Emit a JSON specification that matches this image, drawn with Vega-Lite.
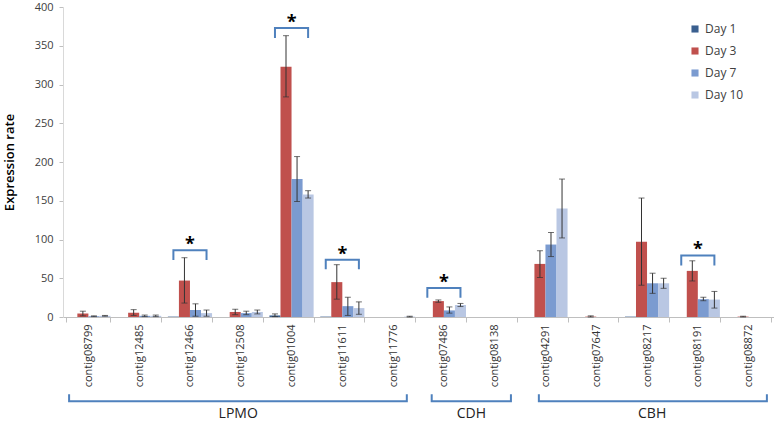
{
  "$schema": "https://vega.github.io/schema/vega-lite/v6.json",
  "padding": {"left": 3, "top": 1, "right": 0, "bottom": 0},
  "background": "white",
  "spacing": 0,
  "config": {"view": {"stroke": null}, "font": "Open Sans",
    "axisY": {"title": "Expression rate", "values": [0,50,100,150,200,250,300,350,400], "labelOverlap": false, "grid": false, "labelFontSize": 11, "labelColor": "#404040", "domainColor": "#d9d9d9", "tickColor": "#bfbfbf", "tickSize": 4, "labelPadding": 6, "titleFontSize": 13, "titleFontWeight": 600, "titleColor": "#000000", "titlePadding": 18}
  },
  "datasets": {
    "bars": [
      {"contig": "contig08799", "day": "Day 1", "v": 0, "lo": null, "hi": null},
      {"contig": "contig08799", "day": "Day 3", "v": 4.5, "lo": 1.5, "hi": 7.5},
      {"contig": "contig08799", "day": "Day 7", "v": 1, "lo": 0.5, "hi": 1.5},
      {"contig": "contig08799", "day": "Day 10", "v": 1.5, "lo": 1, "hi": 2},
      {"contig": "contig12485", "day": "Day 1", "v": 0, "lo": null, "hi": null},
      {"contig": "contig12485", "day": "Day 3", "v": 5.5, "lo": 2, "hi": 9.5},
      {"contig": "contig12485", "day": "Day 7", "v": 1.5, "lo": 0.5, "hi": 2.5},
      {"contig": "contig12485", "day": "Day 10", "v": 1.5, "lo": 0.5, "hi": 2.5},
      {"contig": "contig12466", "day": "Day 1", "v": 0.5, "lo": null, "hi": null},
      {"contig": "contig12466", "day": "Day 3", "v": 47, "lo": 18, "hi": 76.5},
      {"contig": "contig12466", "day": "Day 7", "v": 9, "lo": 1, "hi": 17},
      {"contig": "contig12466", "day": "Day 10", "v": 5, "lo": 1, "hi": 9},
      {"contig": "contig12508", "day": "Day 1", "v": 0, "lo": null, "hi": null},
      {"contig": "contig12508", "day": "Day 3", "v": 6.5, "lo": 3, "hi": 10},
      {"contig": "contig12508", "day": "Day 7", "v": 5, "lo": 3, "hi": 7.5},
      {"contig": "contig12508", "day": "Day 10", "v": 6.5, "lo": 4, "hi": 9},
      {"contig": "contig01004", "day": "Day 1", "v": 2, "lo": 0.5, "hi": 4},
      {"contig": "contig01004", "day": "Day 3", "v": 323, "lo": 284, "hi": 363},
      {"contig": "contig01004", "day": "Day 7", "v": 178, "lo": 149, "hi": 207},
      {"contig": "contig01004", "day": "Day 10", "v": 158, "lo": 153.5, "hi": 163},
      {"contig": "contig11611", "day": "Day 1", "v": 0.5, "lo": null, "hi": null},
      {"contig": "contig11611", "day": "Day 3", "v": 45, "lo": 23, "hi": 67.5},
      {"contig": "contig11611", "day": "Day 7", "v": 14, "lo": 2, "hi": 25.5},
      {"contig": "contig11611", "day": "Day 10", "v": 11.5, "lo": 3.5, "hi": 19.5},
      {"contig": "contig11776", "day": "Day 1", "v": 0, "lo": null, "hi": null},
      {"contig": "contig11776", "day": "Day 3", "v": 0, "lo": null, "hi": null},
      {"contig": "contig11776", "day": "Day 7", "v": 0, "lo": null, "hi": null},
      {"contig": "contig11776", "day": "Day 10", "v": 0.5, "lo": 0, "hi": 1},
      {"contig": "contig07486", "day": "Day 1", "v": 0, "lo": null, "hi": null},
      {"contig": "contig07486", "day": "Day 3", "v": 20.5, "lo": 19, "hi": 22},
      {"contig": "contig07486", "day": "Day 7", "v": 8.5, "lo": 5, "hi": 13},
      {"contig": "contig07486", "day": "Day 10", "v": 15.5, "lo": 13.5, "hi": 17.5},
      {"contig": "contig08138", "day": "Day 1", "v": 0, "lo": null, "hi": null},
      {"contig": "contig08138", "day": "Day 3", "v": 0, "lo": null, "hi": null},
      {"contig": "contig08138", "day": "Day 7", "v": 0, "lo": null, "hi": null},
      {"contig": "contig08138", "day": "Day 10", "v": 0, "lo": null, "hi": null},
      {"contig": "contig04291", "day": "Day 1", "v": 0, "lo": null, "hi": null},
      {"contig": "contig04291", "day": "Day 3", "v": 68.5, "lo": 51, "hi": 85.5},
      {"contig": "contig04291", "day": "Day 7", "v": 93.5, "lo": 78, "hi": 109},
      {"contig": "contig04291", "day": "Day 10", "v": 140, "lo": 102, "hi": 178},
      {"contig": "contig07647", "day": "Day 1", "v": 0, "lo": null, "hi": null},
      {"contig": "contig07647", "day": "Day 3", "v": 0.5, "lo": 0, "hi": 1.5},
      {"contig": "contig07647", "day": "Day 7", "v": 0, "lo": null, "hi": null},
      {"contig": "contig07647", "day": "Day 10", "v": 0, "lo": null, "hi": null},
      {"contig": "contig08217", "day": "Day 1", "v": 0.5, "lo": null, "hi": null},
      {"contig": "contig08217", "day": "Day 3", "v": 97, "lo": 41, "hi": 153.5},
      {"contig": "contig08217", "day": "Day 7", "v": 43.5, "lo": 30.5, "hi": 56.5},
      {"contig": "contig08217", "day": "Day 10", "v": 43.5, "lo": 37, "hi": 50},
      {"contig": "contig08191", "day": "Day 1", "v": 0, "lo": null, "hi": null},
      {"contig": "contig08191", "day": "Day 3", "v": 59.5, "lo": 46.5, "hi": 72.5},
      {"contig": "contig08191", "day": "Day 7", "v": 23, "lo": 21, "hi": 25.5},
      {"contig": "contig08191", "day": "Day 10", "v": 22.5, "lo": 11.5, "hi": 33},
      {"contig": "contig08872", "day": "Day 1", "v": 0, "lo": null, "hi": null},
      {"contig": "contig08872", "day": "Day 3", "v": 0.5, "lo": 0, "hi": 1},
      {"contig": "contig08872", "day": "Day 7", "v": 0, "lo": null, "hi": null},
      {"contig": "contig08872", "day": "Day 10", "v": 0, "lo": null, "hi": null}
    ],
    "sig": [
      {"b": "a", "contig": "contig12466", "day": "Day 1", "y": 73.5, "o": 1},
      {"b": "a", "contig": "contig12466", "day": "Day 1", "y": 86, "o": 2},
      {"b": "a", "contig": "contig12466", "day": "Day 10", "y": 86, "o": 3},
      {"b": "a", "contig": "contig12466", "day": "Day 10", "y": 73.5, "o": 4},
      {"b": "b", "contig": "contig01004", "day": "Day 1", "y": 360, "o": 1},
      {"b": "b", "contig": "contig01004", "day": "Day 1", "y": 373, "o": 2},
      {"b": "b", "contig": "contig01004", "day": "Day 10", "y": 373, "o": 3},
      {"b": "b", "contig": "contig01004", "day": "Day 10", "y": 360, "o": 4},
      {"b": "c", "contig": "contig11611", "day": "Day 1", "y": 61.5, "o": 1},
      {"b": "c", "contig": "contig11611", "day": "Day 1", "y": 74, "o": 2},
      {"b": "c", "contig": "contig11611", "day": "Day 10", "y": 74, "o": 3},
      {"b": "c", "contig": "contig11611", "day": "Day 10", "y": 61.5, "o": 4},
      {"b": "d", "contig": "contig07486", "day": "Day 1", "y": 25, "o": 1},
      {"b": "d", "contig": "contig07486", "day": "Day 1", "y": 37.5, "o": 2},
      {"b": "d", "contig": "contig07486", "day": "Day 10", "y": 37.5, "o": 3},
      {"b": "d", "contig": "contig07486", "day": "Day 10", "y": 25, "o": 4},
      {"b": "e", "contig": "contig08191", "day": "Day 1", "y": 66.5, "o": 1},
      {"b": "e", "contig": "contig08191", "day": "Day 1", "y": 79.5, "o": 2},
      {"b": "e", "contig": "contig08191", "day": "Day 10", "y": 79.5, "o": 3},
      {"b": "e", "contig": "contig08191", "day": "Day 10", "y": 66.5, "o": 4}
    ],
    "stars": [
      {"contig": "contig12466", "y": 86},
      {"contig": "contig01004", "y": 373},
      {"contig": "contig11611", "y": 74},
      {"contig": "contig07486", "y": 37.5},
      {"contig": "contig08191", "y": 79.5}
    ],
    "groups": [
      {"g": "LPMO", "x": 0.12, "y": 0.79, "o": 1},
      {"g": "LPMO", "x": 0.12, "y": 0.59, "o": 2},
      {"g": "LPMO", "x": 6.77, "y": 0.59, "o": 3},
      {"g": "LPMO", "x": 6.77, "y": 0.79, "o": 4},
      {"g": "CDH", "x": 7.26, "y": 0.79, "o": 1},
      {"g": "CDH", "x": 7.26, "y": 0.59, "o": 2},
      {"g": "CDH", "x": 8.82, "y": 0.59, "o": 3},
      {"g": "CDH", "x": 8.82, "y": 0.79, "o": 4},
      {"g": "CBH", "x": 9.37, "y": 0.79, "o": 1},
      {"g": "CBH", "x": 9.37, "y": 0.59, "o": 2},
      {"g": "CBH", "x": 13.86, "y": 0.59, "o": 3},
      {"g": "CBH", "x": 13.86, "y": 0.79, "o": 4}
    ],
    "glabels": [
      {"g": "LPMO", "x": 3.45, "y": 0.22},
      {"g": "CDH", "x": 8.04, "y": 0.22},
      {"g": "CBH", "x": 11.6, "y": 0.22}
    ]
  },
  "vconcat": [
    {
      "width": 711,
      "height": 310,
      "layer": [
        {
          "data": {"name": "bars"},
          "mark": {"type": "bar"},
          "encoding": {
            "x": {"field": "contig", "type": "nominal",
              "scale": {"domain": ["contig08799","contig12485","contig12466","contig12508","contig01004","contig11611","contig11776","contig07486","contig08138","contig04291","contig07647","contig08217","contig08191","contig08872"], "paddingInner": 0.13, "paddingOuter": 0.065},
              "axis": {"title": null, "labelAngle": 270, "tickBand": "extent", "labelFontSize": 11, "labelColor": "#333333", "domainColor": "#bfbfbf", "tickColor": "#bfbfbf", "tickSize": 5, "labelPadding": 2}},
            "xOffset": {"field": "day", "type": "nominal", "scale": {"domain": ["Day 1","Day 3","Day 7","Day 10"], "paddingInner": 0, "paddingOuter": 0}},
            "y": {"field": "v", "type": "quantitative", "scale": {"domain": [0, 400], "nice": false}, "title": "Expression rate"},
            "color": {"field": "day", "type": "nominal",
              "scale": {"domain": ["Day 1","Day 3","Day 7","Day 10"], "range": ["#3A5F8F","#C0504D","#7B9BD0","#B9C7E3"]},
              "legend": {"title": null, "orient": "none", "legendX": 626, "legendY": 16, "symbolType": "square", "symbolSize": 50, "symbolStrokeWidth": 0, "labelFontSize": 12, "labelColor": "#404040", "rowPadding": 10}}
          }
        },
        {
          "data": {"name": "bars"},
          "transform": [{"filter": "datum.hi != null"}],
          "mark": {"type": "rule", "color": "#333333", "strokeWidth": 1},
          "encoding": {
            "x": {"field": "contig", "type": "nominal", "scale": {"domain": ["contig08799","contig12485","contig12466","contig12508","contig01004","contig11611","contig11776","contig07486","contig08138","contig04291","contig07647","contig08217","contig08191","contig08872"], "paddingInner": 0.13, "paddingOuter": 0.065}},
            "xOffset": {"field": "day", "type": "nominal", "scale": {"domain": ["Day 1","Day 3","Day 7","Day 10"], "paddingInner": 0, "paddingOuter": 0}},
            "y": {"field": "lo", "type": "quantitative", "scale": {"domain": [0, 400], "nice": false}, "title": "Expression rate"},
            "y2": {"field": "hi"}
          }
        },
        {
          "data": {"name": "bars"},
          "transform": [{"filter": "datum.hi != null"}],
          "mark": {"type": "tick", "color": "#333333", "thickness": 1, "size": 6},
          "encoding": {
            "x": {"field": "contig", "type": "nominal", "scale": {"domain": ["contig08799","contig12485","contig12466","contig12508","contig01004","contig11611","contig11776","contig07486","contig08138","contig04291","contig07647","contig08217","contig08191","contig08872"], "paddingInner": 0.13, "paddingOuter": 0.065}},
            "xOffset": {"field": "day", "type": "nominal", "scale": {"domain": ["Day 1","Day 3","Day 7","Day 10"], "paddingInner": 0, "paddingOuter": 0}},
            "y": {"field": "lo", "type": "quantitative", "scale": {"domain": [0, 400], "nice": false}, "title": "Expression rate"}
          }
        },
        {
          "data": {"name": "bars"},
          "transform": [{"filter": "datum.hi != null"}],
          "mark": {"type": "tick", "color": "#333333", "thickness": 1, "size": 6},
          "encoding": {
            "x": {"field": "contig", "type": "nominal", "scale": {"domain": ["contig08799","contig12485","contig12466","contig12508","contig01004","contig11611","contig11776","contig07486","contig08138","contig04291","contig07647","contig08217","contig08191","contig08872"], "paddingInner": 0.13, "paddingOuter": 0.065}},
            "xOffset": {"field": "day", "type": "nominal", "scale": {"domain": ["Day 1","Day 3","Day 7","Day 10"], "paddingInner": 0, "paddingOuter": 0}},
            "y": {"field": "hi", "type": "quantitative", "scale": {"domain": [0, 400], "nice": false}, "title": "Expression rate"}
          }
        },
        {
          "data": {"name": "sig"},
          "mark": {"type": "line", "color": "#4F81BD", "strokeWidth": 2},
          "encoding": {
            "x": {"field": "contig", "type": "nominal", "scale": {"domain": ["contig08799","contig12485","contig12466","contig12508","contig01004","contig11611","contig11776","contig07486","contig08138","contig04291","contig07647","contig08217","contig08191","contig08872"], "paddingInner": 0.13, "paddingOuter": 0.065}},
            "xOffset": {"field": "day", "type": "nominal", "scale": {"domain": ["Day 1","Day 3","Day 7","Day 10"], "paddingInner": 0, "paddingOuter": 0}},
            "y": {"field": "y", "type": "quantitative", "scale": {"domain": [0, 400], "nice": false}, "title": "Expression rate"},
            "detail": {"field": "b"},
            "order": {"field": "o", "type": "quantitative"}
          }
        },
        {
          "data": {"name": "stars"},
          "mark": {"type": "text", "text": "*", "fontSize": 18, "fontWeight": "bold", "baseline": "alphabetic", "align": "center", "color": "#000000", "dy": 0},
          "encoding": {
            "x": {"field": "contig", "type": "nominal", "scale": {"domain": ["contig08799","contig12485","contig12466","contig12508","contig01004","contig11611","contig11776","contig07486","contig08138","contig04291","contig07647","contig08217","contig08191","contig08872"], "paddingInner": 0.13, "paddingOuter": 0.065}},
            "y": {"field": "y", "type": "quantitative", "scale": {"domain": [0, 400], "nice": false}, "title": "Expression rate"}
          }
        }
      ]
    },
    {
      "width": 711,
      "height": 35,
      "layer": [
        {
          "data": {"name": "groups"},
          "mark": {"type": "line", "color": "#4F81BD", "strokeWidth": 2},
          "encoding": {
            "x": {"field": "x", "type": "quantitative", "scale": {"domain": [0, 14], "nice": false, "zero": false}, "axis": null},
            "y": {"field": "y", "type": "quantitative", "scale": {"domain": [0, 1], "nice": false}, "axis": null},
            "detail": {"field": "g"},
            "order": {"field": "o", "type": "quantitative"}
          }
        },
        {
          "data": {"name": "glabels"},
          "mark": {"type": "text", "fontSize": 14, "color": "#222222", "baseline": "middle", "align": "center"},
          "encoding": {
            "x": {"field": "x", "type": "quantitative", "scale": {"domain": [0, 14], "nice": false, "zero": false}, "axis": null},
            "y": {"field": "y", "type": "quantitative", "scale": {"domain": [0, 1], "nice": false}, "axis": null},
            "text": {"field": "g"}
          }
        }
      ]
    }
  ],
  "resolve": {"scale": {"x": "independent", "y": "independent"}}
}
